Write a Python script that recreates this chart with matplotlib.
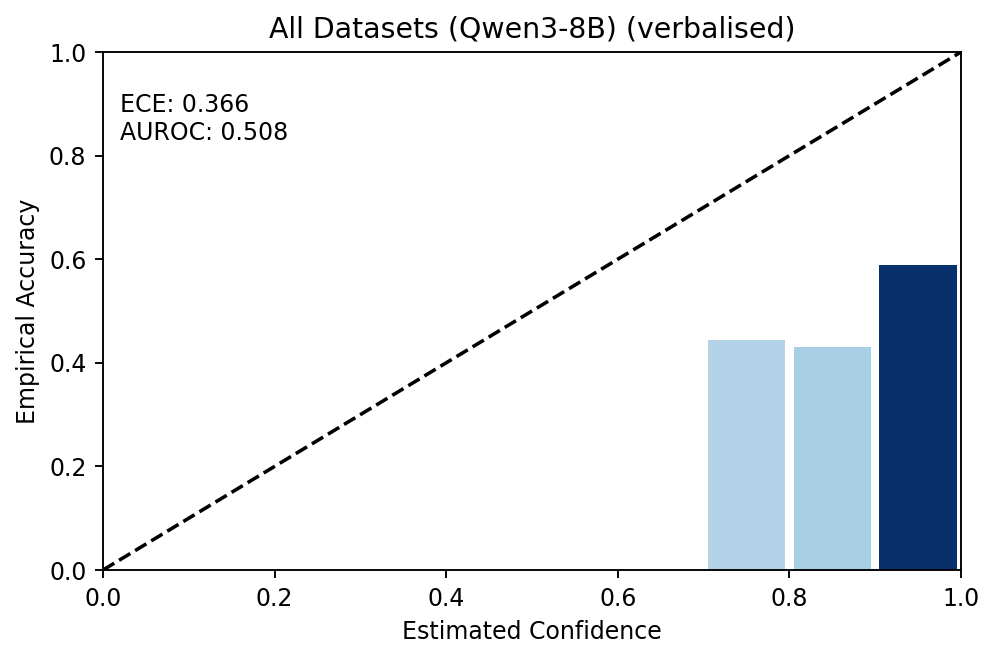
import matplotlib
matplotlib.use("Agg")
import matplotlib.pyplot as plt

bin_centers = [0.75, 0.85, 0.95]
accuracies = [0.444, 0.430, 0.589]
bar_colors = ["#b4d3e8", "#a9cfe5", "#08306b"]
title = "All Datasets (Qwen3-8B) (verbalised)"
ece = 0.366
auroc = 0.508

DPI = 170
fig = plt.figure(figsize=(998/DPI, 658/DPI), dpi=DPI)
ax = fig.add_axes([103/998, 1-570/658, 858/998, 518/658])
ax.bar(bin_centers, accuracies, width=0.09, color=bar_colors, align="center")
ax.plot([0, 1], [0, 1], "k--", linewidth=1.5)
ax.set_xlim(0, 1)
ax.set_ylim(0, 1)
ax.set_xlabel("Estimated Confidence")
ax.set_ylabel("Empirical Accuracy")
ax.set_title(title, fontsize=12)
ax.text(0.02, 0.92, f"ECE: {ece:.3f}\nAUROC: {auroc:.3f}", transform=ax.transAxes,
        va="top", ha="left", fontsize=10)
fig.savefig("out.png", dpi=DPI)
